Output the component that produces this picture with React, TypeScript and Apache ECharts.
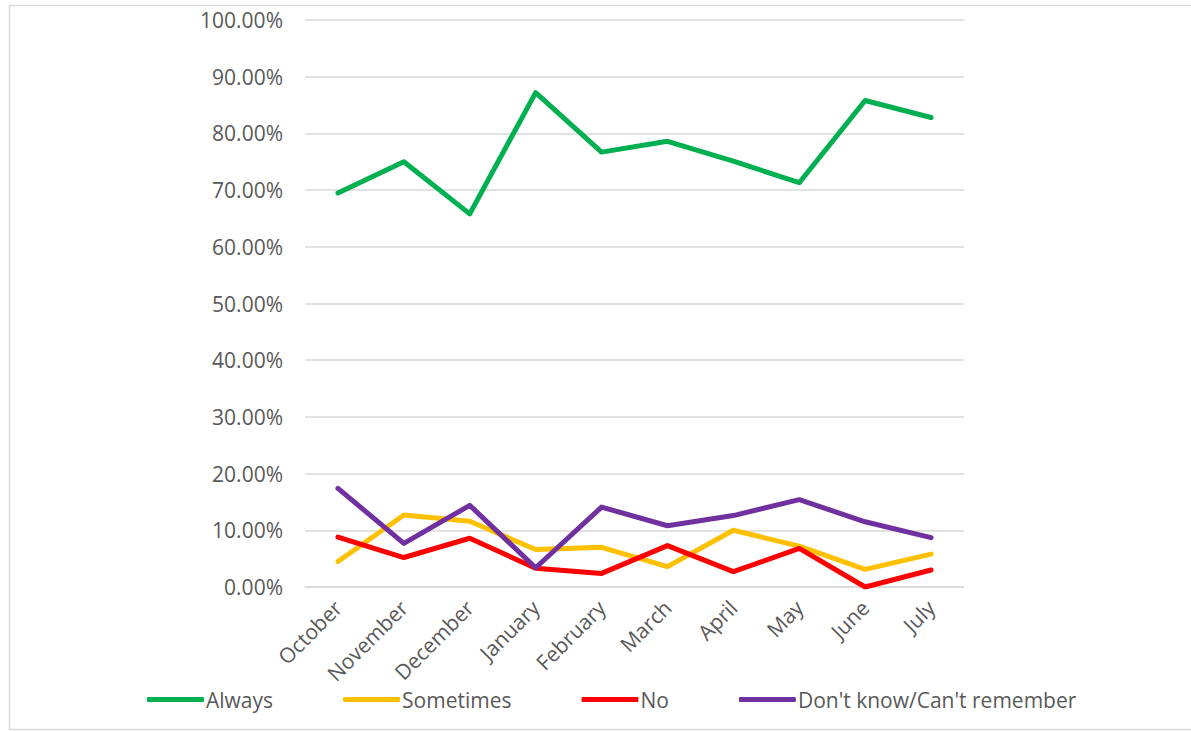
import React, { useEffect, useRef } from "react";
import * as echarts from "echarts";

const months = ["October", "November", "December", "January", "February", "March", "April", "May", "June", "July"];
const always = [69.5, 75.0, 65.8, 87.2, 76.7, 78.6, 75.1, 71.3, 85.8, 82.8];
const sometimes = [4.5, 12.7, 11.6, 6.6, 7.0, 3.6, 10.0, 7.2, 3.1, 5.8];
const no = [8.8, 5.2, 8.6, 3.3, 2.4, 7.3, 2.7, 6.8, 0.0, 3.0];
const dontKnow = [17.4, 7.7, 14.4, 3.4, 14.1, 10.8, 12.6, 15.4, 11.5, 8.7];

const seriesNames = ["Always", "Sometimes", "No", "Don't know/Can't remember"];
const seriesColors = ["#00b050", "#ffc000", "#ff0000", "#7030a0"];
const seriesData = [always, sometimes, no, dontKnow];

const FONT = "Open Sans";

export default function App() {
  const ref = useRef<HTMLDivElement>(null);
  useEffect(() => {
    if (!ref.current) return;
    const chart = echarts.init(ref.current, undefined, { renderer: "svg" });
    chart.setOption({
      animation: false,
      backgroundColor: "#ffffff",
      textStyle: { fontFamily: FONT },
      graphic: [
        {
          type: "rect",
          shape: { x: 9.5, y: 5.5, width: 1200, height: 724 },
          style: { fill: "none", stroke: "#d9d9d9", lineWidth: 1.5 },
          silent: true,
          z: -10,
        },
      ],
      grid: { left: 305, right: 227, top: 20, bottom: 144, containLabel: false },
      legend: {
        left: 142,
        top: 684,
        itemWidth: 57,
        itemHeight: 5,
        itemGap: 70,
        icon: "roundRect",
        textStyle: { fontFamily: FONT, fontSize: 21, color: "#595959", padding: [0, 0, 0, -3] },
        data: seriesNames,
      },
      xAxis: {
        type: "category",
        data: months,
        boundaryGap: true,
        axisLine: { show: true, lineStyle: { color: "#d9d9d9", width: 1.5 } },
        axisTick: { show: false },
        axisLabel: {
          rotate: 45,
          margin: 17,
          interval: 0,
          fontFamily: FONT,
          fontSize: 21,
          color: "#595959",
        },
      },
      yAxis: {
        type: "value",
        min: 0,
        max: 100,
        interval: 10,
        axisLine: { show: false },
        axisTick: { show: false },
        splitLine: { lineStyle: { color: "#d9d9d9", width: 1.5 } },
        axisLabel: {
          margin: 22,
          fontFamily: FONT,
          fontSize: 21,
          color: "#595959",
          formatter: (v: number) => v.toFixed(2) + "%",
        },
      },
      series: seriesNames.map((name, i) => ({
        name,
        type: "line",
        data: seriesData[i],
        symbol: "none",
        color: seriesColors[i],
        lineStyle: { color: seriesColors[i], width: 5, cap: "round", join: "round" },
      })),
    });
    return () => chart.dispose();
  }, []);
  return (
    <div
      ref={ref}
      style={{ position: "absolute", left: 0, top: 0, width: 1191, height: 731 }}
    />
  );
}
